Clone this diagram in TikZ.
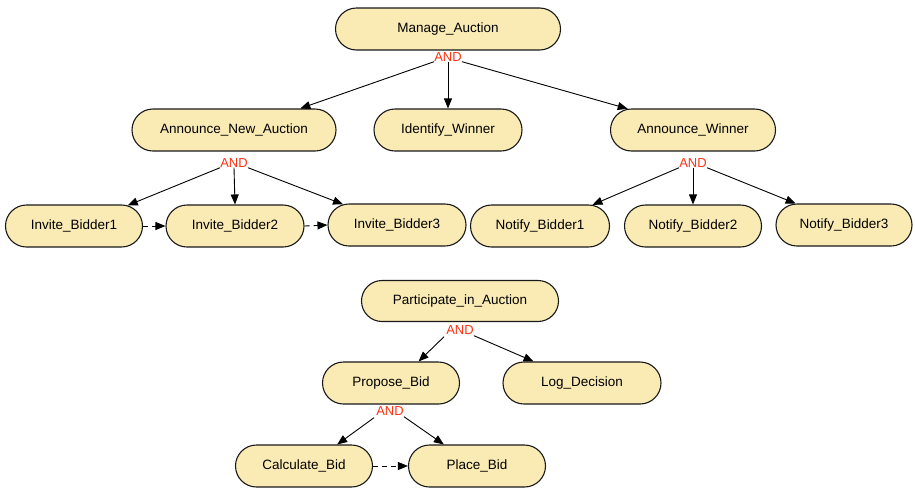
\documentclass[tikz,border=0pt]{standalone}
\usepackage{fontspec}
\setmainfont{Liberation Sans}
\usetikzlibrary{shapes.misc,arrows.meta}
\definecolor{goalfill}{RGB}{250,235,180}
\definecolor{andred}{RGB}{255,50,20}
\begin{document}
\begin{tikzpicture}[x=1pt,y=-1pt,
  goal/.style={rounded rectangle, draw=black!90, line width=1.1pt, fill=goalfill,
    minimum height=42pt, inner sep=0pt, font=\fontsize{13.5}{16}\selectfont},
  andlbl/.style={text=andred, inner sep=0pt, font=\fontsize{13}{15}\selectfont},
  link/.style={-{Triangle[length=10pt,width=8pt]}, line width=0.9pt},
  seq/.style={link, dashed, dash pattern=on 5pt off 4pt}]
\useasboundingbox (0,0) rectangle (915,488);

% top goal tree
\node[goal, minimum width=225pt] (ma)  at (448,29)  {Manage\_Auction};
\node[andlbl] (a1) at (448,57) {AND};
\node[goal, minimum width=204pt] (ana) at (234,130) {Announce\_New\_Auction};
\node[goal, minimum width=148pt] (iw)  at (448,130) {Identify\_Winner};
\node[goal, minimum width=165pt] (aw)  at (693,130) {Announce\_Winner};
\node[andlbl] (a2) at (234,163) {AND};
\node[andlbl] (a3) at (693,163) {AND};
\node[goal, minimum width=137pt] (ib1) at (74,226)  {Invite\_Bidder1};
\node[goal, minimum width=138pt] (ib2) at (235,226) {Invite\_Bidder2};
\node[goal, minimum width=138pt] (ib3) at (397,225) {Invite\_Bidder3};
\node[goal, minimum width=139pt] (nb1) at (540,226) {Notify\_Bidder1};
\node[goal, minimum width=137pt] (nb2) at (693,226) {Notify\_Bidder2};
\node[goal, minimum width=136pt] (nb3) at (844,225) {Notify\_Bidder3};

\draw[link] (a1.south west) -- (ana.18);
\draw[link] (a1.south) -- (iw.north);
\draw[link] (a1.south east) -- (aw.162);
\draw[link] (a2.south west) -- (ib1.21);
\draw[link] (a2.south) -- (ib2.north);
\draw[link] (a2.south east) -- (ib3.159);
\draw[link] (a3.south west) -- (nb1.22);
\draw[link] (a3.south) -- (nb2.north);
\draw[link] (a3.south east) -- (nb3.156);
\draw[seq] (ib1.east) -- (ib2.west);
\draw[seq] (ib2.east) -- (ib3.west);

% bottom goal tree
\node[goal, minimum width=197pt, minimum height=41pt] (pa) at (460,301) {Participate\_in\_Auction};
\node[andlbl] (a4) at (460,330) {AND};
\node[goal, minimum width=137pt] (pb) at (391,383) {Propose\_Bid};
\node[goal, minimum width=158pt] (ld) at (582,383) {Log\_Decision};
\node[andlbl] (a5) at (390,411) {AND};
\node[goal, minimum width=137pt] (cb) at (304,466) {Calculate\_Bid};
\node[goal, minimum width=137pt] (plb) at (477,466) {Place\_Bid};

\draw[link] ([xshift=-2pt,yshift=-2pt]a4.south west) -- (pb.38);
\draw[link] ([yshift=-1pt]a4.south east) -- (ld.156);
\draw[link] ([xshift=-2pt,yshift=-2pt]a5.south west) -- (cb.33);
\draw[link] ([yshift=-1pt]a5.south east) -- (plb.147);
\draw[seq] (cb.east) -- (plb.west);
\end{tikzpicture}
\end{document}
